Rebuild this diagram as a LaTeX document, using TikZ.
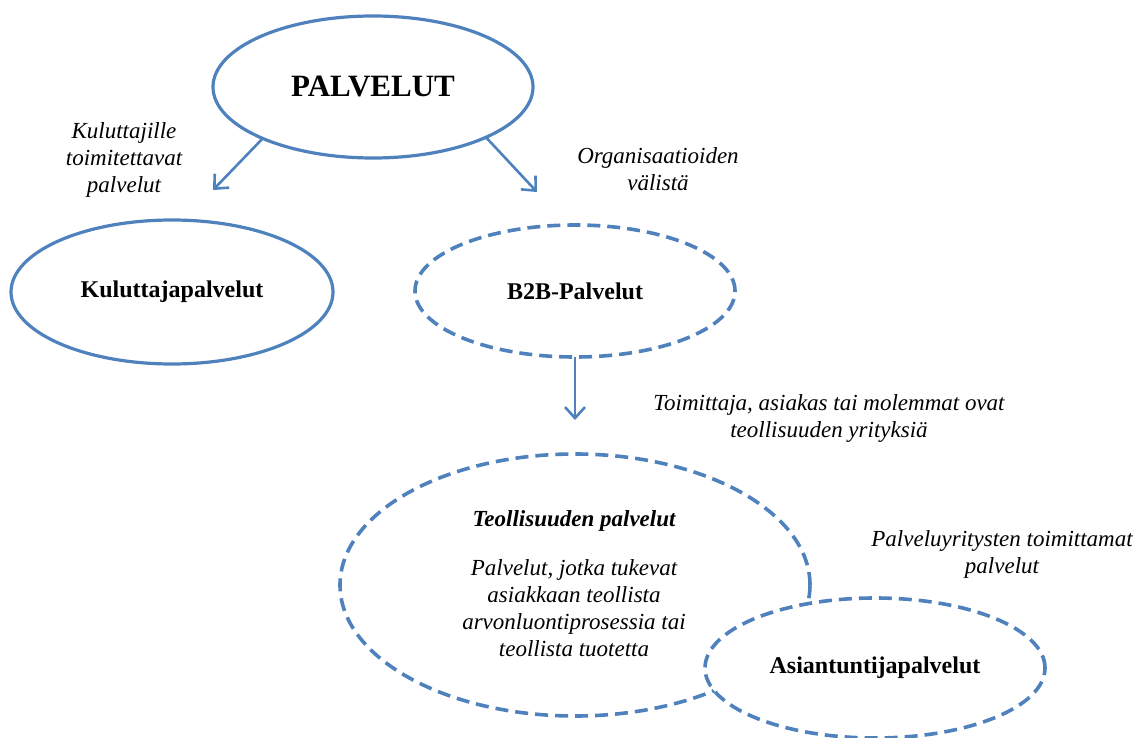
\documentclass[tikz,border=0pt]{standalone}
\usepackage{fontspec}
\setmainfont{Liberation Serif}
\usetikzlibrary{arrows.meta,shapes.geometric}
\definecolor{lineblue}{RGB}{79,129,189}
\begin{document}
\begin{tikzpicture}[x=1pt,y=-1pt,
  oval/.style={ellipse, draw=lineblue, line width=3.2pt, inner sep=0pt, outer sep=0pt,
    font=\fontsize{24}{27}\selectfont\bfseries},
  dashedoval/.style={oval, line width=3.6pt, dash pattern=on 13pt off 7pt},
  flow/.style={draw=lineblue, line width=2.6pt, -{Straight Barb[length=11pt,width=20pt,line width=2.6pt]}},
  note/.style={align=center, inner sep=0pt, font=\fontsize{23}{27}\selectfont\itshape}]
\useasboundingbox (0,0) rectangle (1140,738);

% top level
\node[oval, minimum width=320pt, minimum height=142pt,
      font=\fontsize{31}{34}\selectfont\bfseries] (root) at (373,87) {PALVELUT};

% second level
\node[oval, minimum width=322pt, minimum height=144pt] (cons) at (172,292) {Kuluttajapalvelut};
\node[dashedoval, minimum width=320pt, minimum height=132pt] (b2b) at (575,291) {B2B-Palvelut};

% third level
\node[dashedoval, minimum width=470pt, minimum height=262pt] (ind) at (575,585) {};
\node[note] (indtxt) at (574,584) {{\bfseries Teollisuuden palvelut}\\[22pt]
  Palvelut, jotka tukevat\\ asiakkaan teollista\\ arvonluontiprosessia tai\\ teollista tuotetta};
\node[dashedoval, fill=white, minimum width=340pt, minimum height=140pt] (exp) at (875,668) {Asiantuntijapalvelut};

% arrow ends
\coordinate (consend) at (213,190);
\coordinate (b2bend) at (537,192);
\coordinate (indend) at (575,420);

% connectors
\draw[flow] (root.-155.7) -- (consend);
\draw[flow] (root.-24.5) -- (b2bend);
\draw[flow] (b2b.south) -- (indend);

% annotations
\node[note] (n1) at (124,160) {Kuluttajille\\ toimitettavat\\ palvelut};
\node[note] (n2) at (658,169) {Organisaatioiden\\ välistä};
\node[note] (n3) at (829,418) {Toimittaja, asiakas tai molemmat ovat\\ teollisuuden yrityksiä};
\node[note] (n4) at (1002,554) {Palveluyritysten toimittamat\\ palvelut};
\end{tikzpicture}
\end{document}
